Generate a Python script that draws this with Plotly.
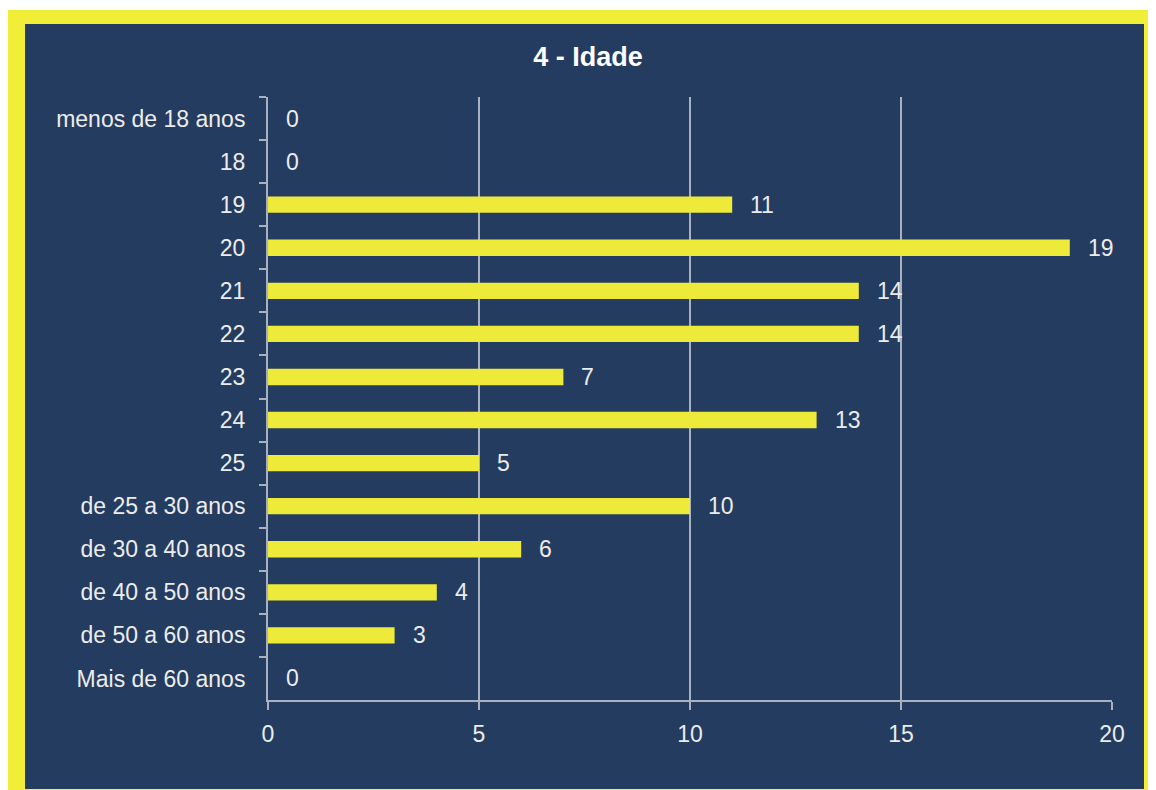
import plotly.graph_objects as go

categories = ["menos de 18 anos", "18", "19", "20", "21", "22", "23", "24", "25",
              "de 25 a 30 anos", "de 30 a 40 anos", "de 40 a 50 anos",
              "de 50 a 60 anos", "Mais de 60 anos"]
values = [0, 0, 11, 19, 14, 14, 7, 13, 5, 10, 6, 4, 3, 0]
x_ticks = [0, 5, 10, 15, 20]
title_text = "4 - Idade"

# page body has an 8px margin, so the figure is drawn 8px smaller each way
OFF = 8
W, H = 1156 - 2 * OFF, 790 - OFF
L, R, T, B = 268 - OFF, 1156 - 2 * OFF - (1112 - OFF), 97 - OFF, 90
pw, ph = W - L - R, H - T - B

def px_x(px):
    return (px - OFF - L) / pw

def px_y(py):
    return (H - B - (py - OFF)) / ph

NAVY = "#243c60"
YELLOW = "#eeea3a"
FRAME = "#f1ee38"
GRID = "#a9b1c0"
TXT = "#ececec"
FONT = "Liberation Sans, Arial, sans-serif"

fig = go.Figure()
fig.add_trace(go.Bar(
    x=values, y=categories, orientation="h",
    marker=dict(color=YELLOW, line=dict(width=0)),
    hoverinfo="x+y",
))

for i, v in enumerate(values):
    fig.add_annotation(x=v, y=i, text=str(v), showarrow=False,
                       xanchor="left", xshift=16,
                       font=dict(size=23, color=TXT, family=FONT))

shapes = [
    dict(type="rect", xref="paper", yref="paper", layer="below",
         x0=px_x(8), x1=px_x(1170), y0=px_y(800), y1=px_y(10),
         fillcolor=FRAME, line=dict(width=0)),
    dict(type="rect", xref="paper", yref="paper", layer="below",
         x0=px_x(25), x1=px_x(1144), y0=px_y(789), y1=px_y(24),
         fillcolor=NAVY, line=dict(width=0)),
]

fig.update_layout(
    width=W, height=H,
    margin=dict(l=L, r=R, t=T, b=B, pad=0),
    paper_bgcolor="white",
    plot_bgcolor=NAVY,
    shapes=shapes,
    showlegend=False,
    bargap=0.62,
    title=dict(text="<b>" + title_text + "</b>", x=px_x(588), xanchor="center",
               xref="paper", y=1 - (57 - OFF) / H, yanchor="middle",
               font=dict(size=27, color="white", family=FONT)),
    xaxis=dict(range=[0, 20], tickvals=x_ticks, showgrid=True, gridcolor=GRID,
               gridwidth=1.5, showline=True, linecolor=GRID, linewidth=2,
               ticks="outside", ticklen=8, tickcolor=GRID, tickwidth=1.5,
               ticklabelstandoff=4,
               tickfont=dict(size=23, color=TXT, family=FONT), zeroline=False,
               fixedrange=True),
    yaxis=dict(type="category", categoryorder="array", categoryarray=categories,
               range=[len(categories) - 0.5, -0.5],
               showline=True, linecolor=GRID, linewidth=2, showgrid=False,
               ticks="outside", tickson="boundaries", ticklen=7, tickcolor=GRID,
               tickwidth=1.5, ticklabelstandoff=16,
               tickfont=dict(size=23, color=TXT, family=FONT), fixedrange=True),
)

fig.write_html("out.html")
